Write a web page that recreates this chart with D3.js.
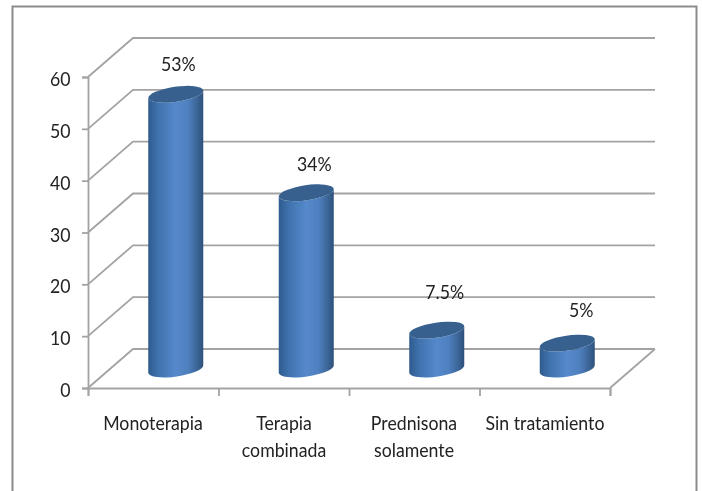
<!DOCTYPE html>
<html><head><meta charset="utf-8">
<script src="https://cdn.jsdelivr.net/npm/d3@7"></script>
<style>
html,body{margin:0;padding:0;background:#fff;overflow:hidden}
text{font-family:Lato,"Open Sans",sans-serif;fill:#222}
</style></head><body>
<svg id="c" width="702" height="491"></svg>
<script>
const categories = [["Monoterapia"],["Terapia","combinada"],["Prednisona","solamente"],["Sin tratamiento"]];
const values = [53,34,7.5,5];
const valueLabels = ["53%","34%","7.5%","5%"];
const yTicks = [0,10,20,30,40,50,60];

const svg = d3.select("#c");
const grey = "#a3a3a3";
const depth = {x:45,y:-39};
const squeeze = 0.885;
const fontSize = 20;
const y = d3.scaleLinear().domain([0,60]).range([388,77]);
const x = d3.scaleBand().domain(d3.range(categories.length)).range([88,610]);

const defs = svg.append("defs");
const g = defs.append("linearGradient").attr("id","cyl").attr("x1",0).attr("x2",1).attr("y1",0).attr("y2",0);
[[0,"#2f5a8e"],[0.18,"#3f72ae"],[0.5,"#5589cb"],[0.72,"#4f80bf"],[0.92,"#37608f"],[1,"#2e4f7a"]]
  .forEach(([o,c])=>g.append("stop").attr("offset",o).attr("stop-color",c));
const blur = defs.append("filter").attr("id","soft").attr("x","-5%").attr("y","-5%").attr("width","110%").attr("height","110%");
blur.append("feGaussianBlur").attr("stdDeviation",0.45);

const root = svg.append("g").attr("filter","url(#soft)");

// outer frame (bottom edge runs off the picture)
root.append("path").attr("d","M12.5,520V6.5H696.5V520").attr("fill","none").attr("stroke","#8c8c8c").attr("stroke-width",2);

// gridlines: side wall + back wall
const grid = root.append("g").attr("fill","none").attr("stroke",grey).attr("stroke-width",1.8);
grid.selectAll("path").data(yTicks).join("path")
  .attr("d",t=>{const p=d3.path();p.moveTo(88,y(t));p.lineTo(88+depth.x,y(t)+depth.y);p.lineTo(610+depth.x,y(t)+depth.y);return p.toString();});
// floor right edge
grid.append("path").attr("d",d3.line()([[610,y(0)],[610+depth.x,y(0)+depth.y]]));

// y axis
const yAxis = root.append("g").attr("transform","translate(88,0)")
  .call(d3.axisLeft(y).tickValues(yTicks).tickSize(6).tickFormat(""));
yAxis.select(".domain").attr("stroke",grey).attr("stroke-width",1.8);
yAxis.selectAll(".tick line").attr("stroke",grey).attr("stroke-width",1.8);
root.append("g").selectAll("text").data(yTicks).join("text")
  .attr("text-anchor","end").attr("font-size",fontSize)
  .attr("transform",t=>`translate(70.5,${y(t)+9}) scale(${squeeze},1)`)
  .text(d3.format("d"));

// x axis
const xEdge = d3.scaleLinear().domain([0,categories.length]).range([88,610]);
const xAxis = root.append("g").attr("transform",`translate(0,${y(0)})`)
  .call(d3.axisBottom(xEdge).tickValues(d3.range(categories.length+1)).tickSize(8).tickFormat(""));
xAxis.select(".domain").attr("stroke",grey).attr("stroke-width",1.8);
xAxis.selectAll(".tick line").attr("stroke",grey).attr("stroke-width",1.8);

// cylinders
const tilt = 8.3, rx = 27.8, ry = 7.5;
const ca = Math.cos(tilt*Math.PI/180)*rx, sa = Math.sin(tilt*Math.PI/180)*rx;
const floorY = y(0)-19;
const cx = i => x(i)+x.bandwidth()/2+depth.x/2;
const topY = v => floorY-(y(0)-y(v));
const bars = root.append("g").selectAll("g").data(values).join("g");
bars.append("path").attr("fill","url(#cyl)")
  .attr("d",(v,i)=>{
    const c=cx(i),t=topY(v);
    return `M${c-ca},${t+sa}L${c-ca},${floorY+sa}A${rx},${ry} ${-tilt} 0 0 ${c+ca},${floorY-sa}L${c+ca},${t-sa}A${rx},${ry} ${-tilt} 0 1 ${c-ca},${t+sa}Z`;
  });
bars.append("ellipse").attr("fill","#37618f")
  .attr("rx",rx).attr("ry",ry)
  .attr("transform",(v,i)=>`translate(${cx(i)},${topY(v)}) rotate(${-tilt})`);

// value labels
const labelDx=[2.5,8,8,14], labelY=[71,171,299,317];
root.append("g").selectAll("text").data(valueLabels).join("text")
  .attr("text-anchor","middle").attr("font-size",fontSize)
  .attr("transform",(d,i)=>`translate(${cx(i)+labelDx[i]},${labelY[i]}) scale(${squeeze},1)`)
  .text(d=>d);

// category labels
const catX = [153,284,414,545];
root.append("g").selectAll("text").data(categories).join("text")
  .attr("text-anchor","middle").attr("font-size",fontSize)
  .attr("transform",(d,i)=>`translate(${catX[i]},430) scale(${squeeze},1)`)
  .selectAll("tspan").data(d=>d).join("tspan")
  .attr("x",0).attr("dy",(d,i)=>i?27:0).text(d=>d);
</script>
</body></html>
